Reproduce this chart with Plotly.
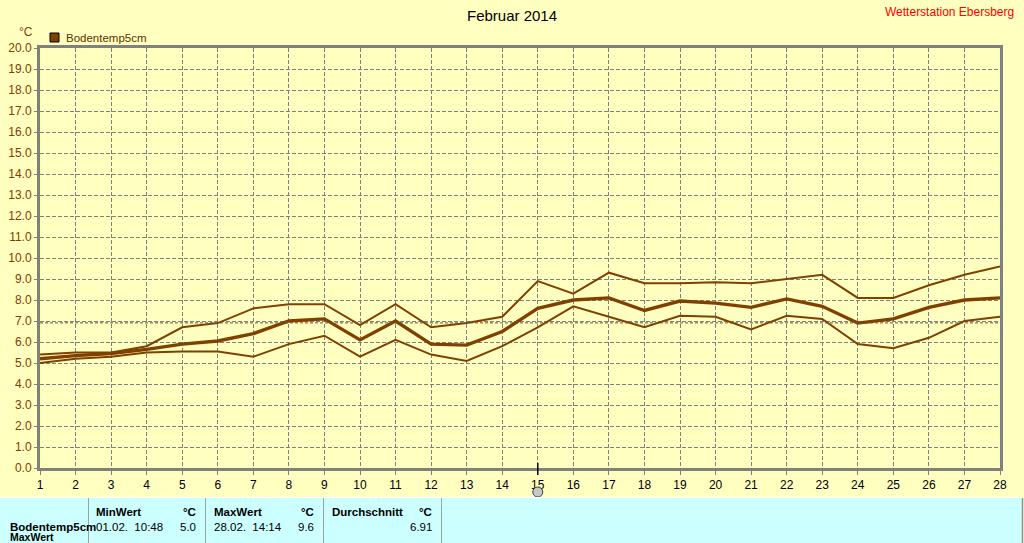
import plotly.graph_objects as go

days = list(range(1, 29))
t_max = [5.4, 5.5, 5.5, 5.8, 6.7, 6.9, 7.6, 7.8, 7.8, 6.8, 7.8, 6.7, 6.9, 7.2,
         8.9, 8.3, 9.3, 8.8, 8.8, 8.85, 8.8, 9.0, 9.2, 8.1, 8.1, 8.7, 9.2, 9.6]
t_mean = [5.2, 5.35, 5.45, 5.65, 5.9, 6.05, 6.4, 7.0, 7.1, 6.1, 7.0, 5.9, 5.85, 6.5,
          7.6, 8.0, 8.1, 7.5, 7.95, 7.85, 7.65, 8.05, 7.7, 6.9, 7.1, 7.65, 8.0, 8.1]
t_min = [5.0, 5.2, 5.3, 5.5, 5.55, 5.55, 5.3, 5.9, 6.3, 5.3, 6.1, 5.4, 5.1, 5.8,
         6.7, 7.7, 7.2, 6.7, 7.25, 7.2, 6.6, 7.25, 7.1, 5.9, 5.7, 6.2, 7.0, 7.2]
average = 6.91
y_ticks = [i * 1.0 for i in range(21)]
cursor_day = 15

LINE = "#804000"
BG = "#FFFFC0"
PANEL = "#CCFFFF"
FONT = "Liberation Sans"

W, H = 1024, 543
L, R, T, B = 40, 24, 48, 75
PW, PH = W - L - R, H - T - B


def px(x):
    return (x - L) / PW


def py(y):
    return (H - B - y) / PH


fig = go.Figure()
for vals, w in ((t_max, 2), (t_min, 2), (t_mean, 3.4)):
    fig.add_trace(go.Scatter(x=days, y=vals, mode="lines",
                             line=dict(color=LINE, width=w), showlegend=False,
                             hoverinfo="skip"))

shapes = [
    # average line
    dict(type="line", xref="paper", yref="y", x0=0, x1=1, y0=average, y1=average,
         line=dict(color="#705030", width=1, dash="3px,2px"), layer="above"),
    # cursor tick
    dict(type="line", xref="x", yref="paper", x0=cursor_day, x1=cursor_day,
         y0=py(463), y1=py(475), line=dict(color="black", width=1.5)),
    dict(type="circle", xref="x", yref="paper", x0=cursor_day - 0.14, x1=cursor_day + 0.14,
         y0=py(497), y1=py(487), line=dict(color="#404040", width=1), fillcolor="#c8c8c8"),
    # bottom panel
    dict(type="rect", xref="paper", yref="paper", x0=px(-2), x1=px(1022), y0=py(498), y1=py(550),
         fillcolor=PANEL, line=dict(width=0), layer="below"),
    dict(type="line", xref="paper", yref="paper", x0=px(0), x1=px(1022), y0=py(497.5), y1=py(497.5),
         line=dict(color="white", width=1)),
    dict(type="line", xref="paper", yref="paper", x0=px(1022.5), x1=px(1022.5), y0=py(498), y1=py(550),
         line=dict(color="#909090", width=1.5)),
    # legend swatch
    dict(type="rect", xref="paper", yref="paper", x0=px(50), x1=px(59), y0=py(42), y1=py(33),
         fillcolor=LINE, line=dict(color="black", width=1)),
]
for sx in (88.5, 205.5, 323.5, 441.5):
    shapes.append(dict(type="line", xref="paper", yref="paper", x0=px(sx), x1=px(sx),
                       y0=py(498), y1=py(550), line=dict(color="#a0a0a0", width=1)))

annotations = [
    dict(text="Februar 2014", x=px(512), y=py(15), font=dict(size=15, color="black")),
    dict(text="Wetterstation Ebersberg", x=px(1016), y=py(12), xanchor="right",
         font=dict(size=12, color="#ff0000")),
    dict(text="°C", x=px(26), y=py(32), font=dict(size=12, color=LINE)),
    dict(text="Bodentemp5cm", x=px(64), y=py(38), xanchor="left", font=dict(size=11.5, color="#603000")),
    dict(text="<b>MinWert</b>", x=px(94), y=py(512), xanchor="left"),
    dict(text="<b>°C</b>", x=px(198), y=py(512), xanchor="right"),
    dict(text="<b>MaxWert</b>", x=px(212), y=py(512), xanchor="left"),
    dict(text="<b>°C</b>", x=px(316), y=py(512), xanchor="right"),
    dict(text="<b>Durchschnitt</b>", x=px(330), y=py(512), xanchor="left"),
    dict(text="<b>°C</b>", x=px(434), y=py(512), xanchor="right"),
    dict(text="<b>Bodentemp5cm</b>", x=px(8), y=py(527), xanchor="left"),
    dict(text="01.02.  10:48", x=px(94), y=py(527), xanchor="left"),
    dict(text=f"{min(t_min):.1f}", x=px(198), y=py(527), xanchor="right"),
    dict(text="28.02.  14:14", x=px(212), y=py(527), xanchor="left"),
    dict(text=f"{max(t_max):.1f}", x=px(316), y=py(527), xanchor="right"),
    dict(text=f"{average:.2f}", x=px(434), y=py(527), xanchor="right"),
    dict(text="<b>MaxWert</b>", x=px(8), y=py(537), xanchor="left", font=dict(size=10.5, color="black")),
]
for a in annotations:
    a.setdefault("xref", "paper")
    a.setdefault("yref", "paper")
    a.setdefault("xanchor", "center")
    a.setdefault("yanchor", "middle")
    a.setdefault("showarrow", False)
    a.setdefault("font", dict(size=11.5, color="black"))
    a["font"].setdefault("family", FONT)

fig.update_layout(
    width=W, height=H,
    margin=dict(l=L, r=R, t=T, b=B, autoexpand=False),
    paper_bgcolor=BG, plot_bgcolor=BG,
    font=dict(family=FONT, size=12, color="black"),
    shapes=shapes, annotations=annotations,
    xaxis=dict(range=[1, 28], tickmode="array", tickvals=days, ticktext=[str(d) for d in days],
               showgrid=True, gridcolor="#808080", griddash="4px,2px", gridwidth=1,
               showline=True, linecolor="#808080", linewidth=3, mirror=True,
               ticks="outside", ticklen=4, tickcolor="#808080",
               tickfont=dict(size=12, color="black"), zeroline=False, fixedrange=True),
    yaxis=dict(range=[0, 20], tickmode="array", tickvals=y_ticks,
               ticktext=[f"{v:.1f}" for v in y_ticks],
               showgrid=True, gridcolor="#808080", griddash="4px,2px", gridwidth=1,
               showline=True, linecolor="#808080", linewidth=3, mirror=True,
               ticks="outside", ticklen=3, tickcolor="#808080",
               tickfont=dict(size=12, color=LINE), zeroline=False, fixedrange=True),
)

fig.write_html("out.html", config={"displayModeBar": False},
               post_script="document.body.style.margin='0';document.body.style.overflow='hidden';")
